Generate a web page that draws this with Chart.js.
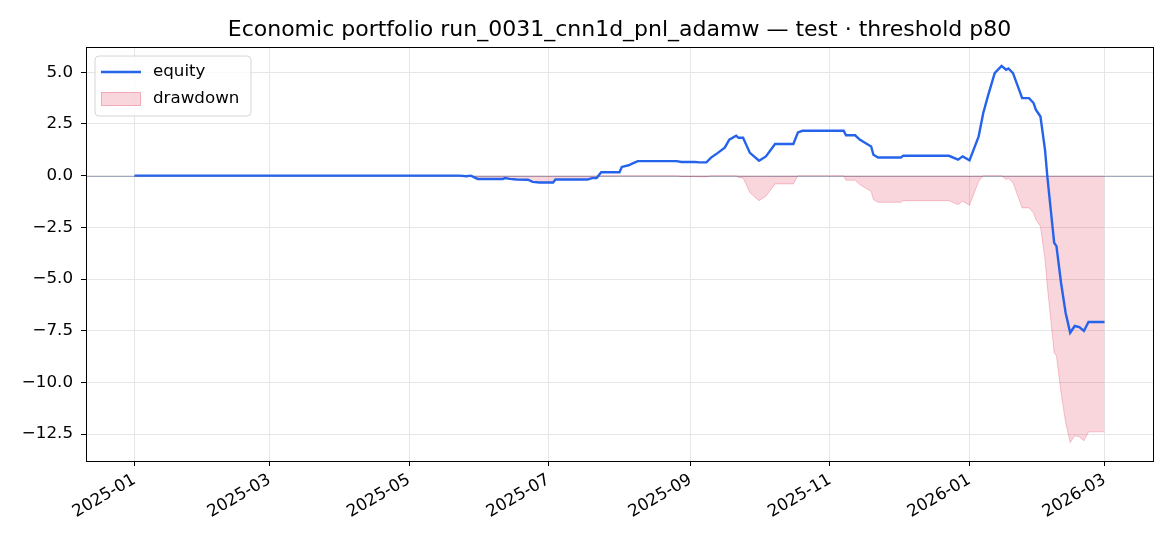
<!DOCTYPE html>
<html>
<head>
<meta charset="utf-8">
<script src="https://cdn.jsdelivr.net/npm/chart.js@4.4.1/dist/chart.umd.min.js"></script>
<style>
    html, body { margin: 0; padding: 0; background: #fff; }
    #wrap { width: 1170px; height: 546px; position: relative; }
</style>
</head>
<body>
<div id="wrap"><canvas id="equityChart"></canvas></div>
<script>
// Portfolio equity + drawdown

const chartTitle = 'Economic portfolio run_0031_cnn1d_pnl_adamw \u2014 test \u00b7 threshold p80';

const dates = [
    '2025-01-01', '2025-05-23', '2025-05-26', '2025-05-28', '2025-05-31', '2025-06-11',
    '2025-06-12', '2025-06-14', '2025-06-17', '2025-06-22', '2025-06-24', '2025-06-27',
    '2025-07-03', '2025-07-04', '2025-07-18', '2025-07-20', '2025-07-22', '2025-07-24',
    '2025-08-01', '2025-08-02', '2025-08-05', '2025-08-07', '2025-08-09', '2025-08-26',
    '2025-08-28', '2025-09-03', '2025-09-05', '2025-09-08', '2025-09-10', '2025-09-13',
    '2025-09-16', '2025-09-18', '2025-09-21', '2025-09-22', '2025-09-24', '2025-09-27',
    '2025-10-01', '2025-10-04', '2025-10-08', '2025-10-16', '2025-10-18', '2025-10-20',
    '2025-11-07', '2025-11-08', '2025-11-12', '2025-11-14', '2025-11-17', '2025-11-19',
    '2025-11-20', '2025-11-22', '2025-12-02', '2025-12-03', '2025-12-23', '2025-12-27',
    '2025-12-29', '2026-01-01', '2026-01-05', '2026-01-07', '2026-01-09', '2026-01-12',
    '2026-01-15', '2026-01-17', '2026-01-18', '2026-01-20', '2026-01-24', '2026-01-27',
    '2026-01-29', '2026-01-30', '2026-02-01', '2026-02-03', '2026-02-04', '2026-02-07',
    '2026-02-08', '2026-02-10', '2026-02-12', '2026-02-14', '2026-02-16', '2026-02-18',
    '2026-02-20', '2026-02-22', '2026-03-01'
];

const equity = [
    0.00, 0.00, -0.03, 0.00, -0.16, -0.16,
    -0.12, -0.16, -0.19, -0.20, -0.30, -0.33,
    -0.33, -0.19, -0.19, -0.12, -0.12, 0.16,
    0.16, 0.42, 0.50, 0.60, 0.70, 0.70,
    0.66, 0.66, 0.64, 0.64, 0.87, 1.10,
    1.35, 1.74, 1.93, 1.83, 1.83, 1.10,
    0.72, 0.93, 1.53, 1.53, 2.09, 2.17,
    2.17, 1.95, 1.95, 1.74, 1.54, 1.41,
    1.01, 0.88, 0.88, 0.96, 0.96, 0.77,
    0.93, 0.74, 1.90, 3.03, 3.83, 4.96,
    5.31, 5.12, 5.18, 4.96, 3.75, 3.75,
    3.51, 3.19, 2.86, 1.25, -0.03, -3.25,
    -3.41, -5.18, -6.63, -7.60, -7.27, -7.32,
    -7.51, -7.08, -7.08
];

const drawdown = [
    0.00, 0.00, -0.03, 0.00, -0.16, -0.16,
    -0.12, -0.16, -0.19, -0.20, -0.30, -0.33,
    -0.33, -0.19, -0.19, -0.12, -0.12, 0.00,
    0.00, 0.00, 0.00, 0.00, 0.00, 0.00,
    -0.04, -0.04, -0.06, -0.06, 0.00, 0.00,
    0.00, 0.00, 0.00, -0.10, -0.10, -0.83,
    -1.21, -1.00, -0.40, -0.40, 0.00, 0.00,
    0.00, -0.22, -0.22, -0.43, -0.63, -0.76,
    -1.16, -1.29, -1.29, -1.21, -1.21, -1.40,
    -1.24, -1.43, -0.27, 0.00, 0.00, 0.00,
    0.00, -0.19, -0.13, -0.35, -1.56, -1.56,
    -1.80, -2.12, -2.45, -4.06, -5.34, -8.56,
    -8.72, -10.49, -11.94, -12.91, -12.58, -12.63,
    -12.82, -12.39, -12.39
];

const xTickDates = ['2025-01-01', '2025-03-01', '2025-05-01', '2025-07-01', '2025-09-01', '2025-11-01', '2026-01-01', '2026-03-01'];
const xTickLabels = ['2025-01', '2025-03', '2025-05', '2025-07', '2025-09', '2025-11', '2026-01', '2026-03'];
const yTicks = [5, 2.5, 0, -2.5, -5, -7.5, -10, -12.5];

const FONT = "'DejaVu Sans', sans-serif";
const TICK_SIZE = 16.7;
const EQUITY_COLOR = '#2563eb';
const DD_FILL = 'rgba(220, 20, 60, 0.18)';
const DD_EDGE = 'rgba(220, 20, 60, 0.22)';

// day offset from the first date, used as the linear x value
const day0 = Date.parse(dates[0]);
function dayOf(s) {
    return (Date.parse(s) - day0) / 86400000;
}

function fmtY(v) {
    const s = Math.abs(v).toFixed(1);
    return v < 0 ? '\u2212' + s : s;
}

const span = dayOf(dates[dates.length - 1]) - dayOf(dates[0]);
const xMin = dayOf(dates[0]) - 0.05 * span;
const xMax = dayOf(dates[dates.length - 1]) + 0.05 * span;

// title over the plot area, top/right spines, zero line and in-plot legend
const framePlugin = {
    id: 'frame',
    beforeDatasetsDraw(chart) {
        const { ctx, chartArea, scales } = chart;
        const y0 = Math.round(scales.y.getPixelForValue(0)) + 0.5;
        ctx.save();
        ctx.strokeStyle = 'rgba(110, 125, 150, 0.65)';
        ctx.lineWidth = 1;
        ctx.beginPath();
        ctx.moveTo(chartArea.left, y0);
        ctx.lineTo(chartArea.right, y0);
        ctx.stroke();
        ctx.restore();
    },
    afterDraw(chart) {
        const { ctx, chartArea } = chart;
        ctx.save();
        ctx.strokeStyle = '#000';
        ctx.lineWidth = 1;
        ctx.strokeRect(Math.round(chartArea.left) + 0.5, Math.round(chartArea.top) + 0.5,
            Math.round(chartArea.right - chartArea.left), Math.round(chartArea.bottom - chartArea.top));

        // title
        ctx.fillStyle = '#000';
        ctx.font = '22px ' + FONT;
        ctx.textAlign = 'center';
        ctx.textBaseline = 'middle';
        ctx.fillText(chartTitle, (chartArea.left + chartArea.right) / 2, 30);

        // legend box
        const bx = chartArea.left + 9, by = chartArea.top + 9, bw = 156, bh = 60, r = 4;
        ctx.beginPath();
        ctx.moveTo(bx + r, by);
        ctx.arcTo(bx + bw, by, bx + bw, by + bh, r);
        ctx.arcTo(bx + bw, by + bh, bx, by + bh, r);
        ctx.arcTo(bx, by + bh, bx, by, r);
        ctx.arcTo(bx, by, bx + bw, by, r);
        ctx.closePath();
        ctx.fillStyle = 'rgba(255, 255, 255, 0.8)';
        ctx.fill();
        ctx.strokeStyle = '#d6d6d6';
        ctx.stroke();

        ctx.strokeStyle = EQUITY_COLOR;
        ctx.lineWidth = 2.4;
        ctx.beginPath();
        ctx.moveTo(bx + 6, by + 16);
        ctx.lineTo(bx + 46, by + 16);
        ctx.stroke();

        ctx.fillStyle = DD_FILL;
        ctx.fillRect(bx + 6, by + 36, 40, 14);
        ctx.strokeStyle = DD_EDGE;
        ctx.lineWidth = 1;
        ctx.strokeRect(bx + 6.5, by + 36.5, 39, 13);

        ctx.fillStyle = '#000';
        ctx.font = TICK_SIZE + 'px ' + FONT;
        ctx.textAlign = 'left';
        ctx.textBaseline = 'middle';
        ctx.fillText('equity', bx + 58, by + 16);
        ctx.fillText('drawdown', bx + 58, by + 43);
        ctx.restore();
    }
};

const ctx = document.getElementById('equityChart').getContext('2d');
const equityChart = new Chart(ctx, {
    type: 'line',
    data: {
        datasets: [
            {
                label: 'equity',
                data: dates.map((d, i) => ({ x: dayOf(d), y: equity[i] })),
                borderColor: EQUITY_COLOR,
                borderWidth: 2.4,
                pointRadius: 0,
                fill: false,
                tension: 0
            },
            {
                label: 'drawdown',
                data: dates.map((d, i) => ({ x: dayOf(d), y: drawdown[i] })),
                borderColor: DD_EDGE,
                backgroundColor: DD_FILL,
                borderWidth: 1,
                pointRadius: 0,
                fill: 'origin',
                tension: 0
            }
        ]
    },
    options: {
        responsive: true,
        maintainAspectRatio: false,
        animation: false,
        events: [],
        layout: { padding: { left: 0, right: 17, top: 47, bottom: 0 } },
        plugins: {
            legend: { display: false },
            tooltip: { enabled: false },
            title: { display: false }
        },
        scales: {
            x: {
                type: 'linear',
                min: xMin,
                max: xMax,
                afterBuildTicks(scale) {
                    scale.ticks = xTickDates.map(d => ({ value: dayOf(d) }));
                },
                afterFit(scale) {
                    scale.height = 85;
                },
                ticks: {
                    autoSkip: false,
                    minRotation: 30,
                    maxRotation: 30,
                    color: '#000',
                    padding: 4,
                    font: { family: FONT, size: TICK_SIZE },
                    callback: (value, index) => xTickLabels[index]
                },
                grid: {
                    color: '#e6e6e6',
                    lineWidth: 1,
                    tickColor: '#000',
                    tickLength: 5
                },
                border: { display: true, color: '#000', width: 1 }
            },
            y: {
                type: 'linear',
                min: -13.8,
                max: 6.22,
                afterBuildTicks(scale) {
                    scale.ticks = yTicks.map(v => ({ value: v }));
                },
                afterFit(scale) {
                    scale.width = 86;
                },
                ticks: {
                    color: '#000',
                    padding: 8,
                    font: { family: FONT, size: TICK_SIZE },
                    callback: value => fmtY(value)
                },
                grid: {
                    color: '#e6e6e6',
                    lineWidth: 1,
                    tickColor: '#000',
                    tickLength: 5
                },
                border: { display: true, color: '#000', width: 1 }
            }
        }
    },
    plugins: [framePlugin]
});
</script>
</body>
</html>
